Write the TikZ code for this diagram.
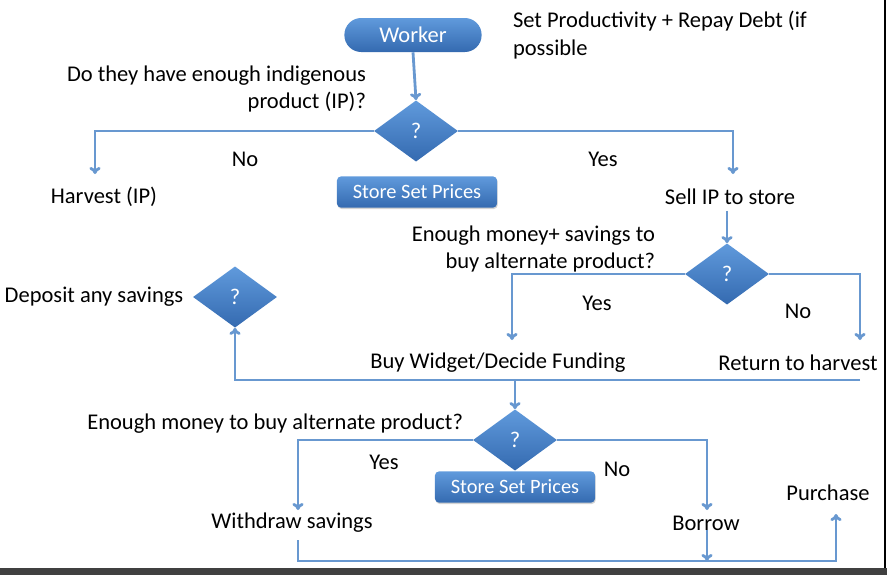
\documentclass[tikz,border=0pt]{standalone}
\usepackage{fontspec}
\setmainfont{Carlito}
\usepackage{tikz}
\usetikzlibrary{arrows.meta,shapes.geometric,shadows}
\definecolor{lineblue}{RGB}{104,152,208}
\definecolor{boxtop}{RGB}{96,154,220}
\definecolor{boxbottom}{RGB}{52,106,176}
\tikzset{
    txt/.style = {
        font=\fontsize{16}{19.5}\selectfont,
        inner sep=0pt,
        outer sep=0pt
    },
    blueshape/.style = {
        top color=boxtop,
        bottom color=boxbottom,
        draw=none,
        text=white,
        inner sep=0pt,
        font=\fontsize{16}{19.5}\selectfont
    },
    decision/.style = {
        blueshape,
        diamond,
        minimum width=2.1cm,
        minimum height=1.53cm
    },
    startnode/.style = {
        blueshape,
        rectangle,
        rounded corners=0.42cm,
        minimum width=3.43cm,
        minimum height=0.85cm
    },
    pricebox/.style = {
        blueshape,
        rectangle,
        rounded corners=1mm,
        minimum width=4cm,
        minimum height=0.78cm,
        drop shadow={opacity=0.35, shadow xshift=0.5pt, shadow yshift=-1pt},
        font=\fontsize{14.5}{17}\selectfont
    },
    flowline/.style = {
        draw=lineblue,
        line width=2pt,
        -{To[length=5pt,width=8pt]}
    },
    plainline/.style = {
        draw=lineblue,
        line width=2pt
    }
}

\begin{document}
\begin{tikzpicture}[x=0.025cm, y=-0.025cm]
    \useasboundingbox (0,0) rectangle (887,575);

    % top part
    \node [startnode] (worker) at (413,35) {Worker};
    \node [txt, anchor=west, align=left] (settext) at (513,35) {Set Productivity + Repay Debt (if\\possible};
    \node [decision] (q1) at (416,131) {?};
    \node [txt, anchor=east, align=right] (q1text) at (366,89) {Do they have enough indigenous\\product (IP)?};
    \node [pricebox] (store1) at (417,192) {Store Set Prices};
    \node [txt] (harvest) at (104,197) {Harvest (IP)};
    \node [txt] (no1) at (245,159) {No};
    \node [txt] (yes1) at (603,159) {Yes};
    \node [txt] (sell) at (730,197) {Sell IP to store};

    % second decision
    \node [decision] (q2) at (727,274) {?};
    \node [txt, anchor=east, align=right] (q2text) at (655,249) {Enough money+ savings to\\buy alternate product?};
    \node [txt] (yes2) at (597,303) {Yes};
    \node [txt] (no2) at (798,311) {No};
    \node [txt] (buy) at (498,363) {Buy Widget/Decide Funding};
    \node [txt] (return) at (798,363) {Return to harvest};

    % deposit
    \node [decision] (q3) at (235,297) {?};
    \node [txt] (deposit) at (94,297) {Deposit any savings};

    % third decision
    \node [decision] (q4) at (515,440) {?};
    \node [txt, anchor=east] (q4text) at (463,424) {Enough money to buy alternate product?};
    \node [pricebox] (store2) at (515,487) {Store Set Prices};
    \node [txt] (yes3) at (384,462) {Yes};
    \node [txt] (no3) at (617,469) {No};
    \node [txt] (withdraw) at (292,523) {Withdraw savings};
    \node [txt] (borrow) at (706,523) {Borrow};
    \node [txt] (purchase) at (828,493) {Purchase};

    % connector ends
    \coordinate (harvestin) at (95,174);
    \coordinate (sellin) at (733,174);
    \coordinate (buyin) at (512,340);
    \coordinate (returnin) at (860,340);
    \coordinate (loopstart) at (860,380);
    \coordinate (withdrawin) at (298,510);
    \coordinate (borrowin) at (707,510);
    \coordinate (withdrawout) at (298,540);
    \coordinate (joint) at (707,561);
    \coordinate (purchasein) at (836,514);

    % connectors
    \draw [flowline] (worker.south) -- (q1.north);
    \draw [flowline] (q1.west) -| (harvestin);
    \draw [flowline] (q1.east) -| (sellin);
    \draw [flowline] (q2.north |- sell.south) ++(0,6) -- (q2.north);
    \draw [flowline] (q2.west) -| (buyin);
    \draw [flowline] (q2.east) -| (returnin);
    \draw [flowline] (loopstart) -| (q3.south);
    \draw [flowline] (q4.north |- loopstart) -- (q4.north);
    \draw [flowline] (q4.west) -| (withdrawin);
    \draw [flowline] (q4.east) -| (borrowin);
    \draw [plainline] (withdrawout) |- (joint);
    \draw [flowline] (joint) -| (purchasein);
    \draw [flowline] (borrow.south -| joint) -- (joint);

    % frame edges
    \fill [black!75] (0,568) rectangle (887,575);
    \draw [black, line width=1.5pt] (885,0) -- (885,568);
\end{tikzpicture}
\end{document}
